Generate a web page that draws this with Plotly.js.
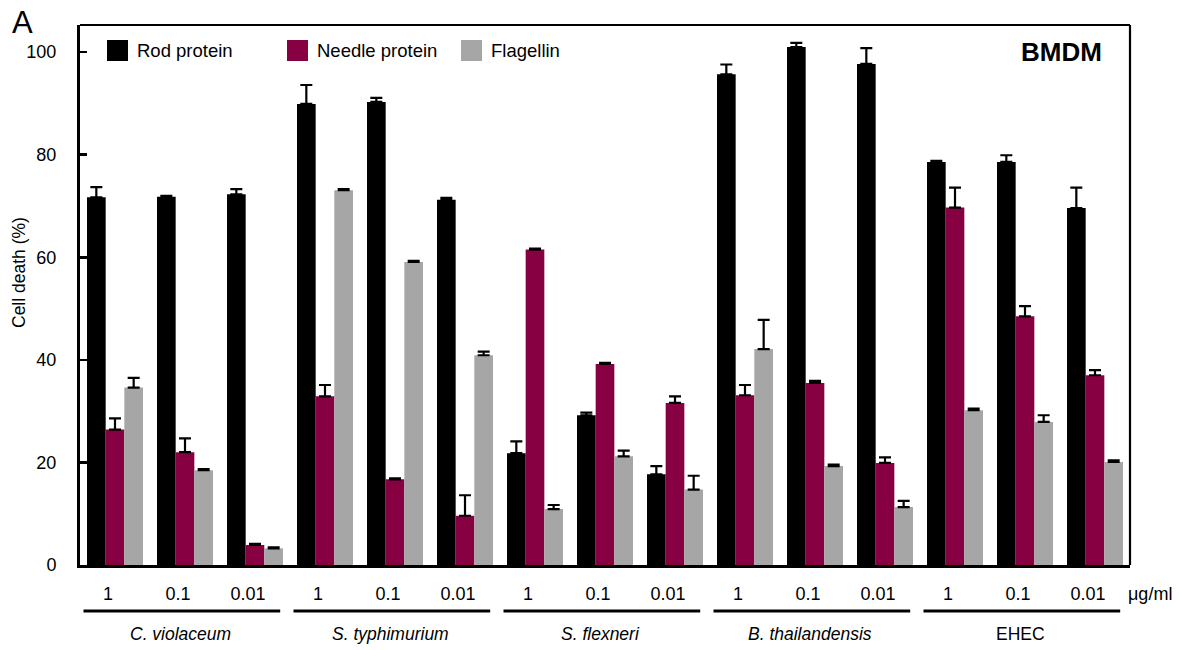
<!DOCTYPE html>
<html>
<head>
<meta charset="utf-8">
<script src="https://cdn.plot.ly/plotly-3.0.1.min.js"></script>
<style>html,body{margin:0;padding:0;background:#fff;}#chart{width:1181px;height:650px;}</style>
</head>
<body>
<div id="chart"></div>
<script>
// ---- data ----
const species = ["C. violaceum", "S. typhimurium", "S. flexneri", "B. thailandensis", "EHEC"];
const speciesItalic = [true, true, true, true, false];
const doses = ["1", "0.1", "0.01"];
const seriesNames = ["Rod protein", "Needle protein", "Flagellin"];
const seriesColors = ["#000000", "#870042", "#a6a6a6"];

const rodValues    = [71.7, 71.8, 72.3,  89.9, 90.3, 71.2,  21.8, 29.2, 17.7,  95.7, 101.0, 97.7,  78.6, 78.6, 69.6];
const rodErrors    = [2.0, 0.2, 1.0,     3.7, 0.8, 0.4,     2.3, 0.5, 1.6,     1.9, 0.8, 3.1,      0.2, 1.3, 4.0];
const needleValues = [26.4, 22.0, 3.9,   32.9, 16.7, 9.6,   61.5, 39.2, 31.6,  33.1, 35.5, 19.9,   69.7, 48.5, 37.0];
const needleErrors = [2.2, 2.7, 0.2,     2.2, 0.2, 4.0,     0.2, 0.2, 1.3,     2.0, 0.4, 1.1,      3.9, 2.0, 1.0];
const flagValues   = [34.6, 18.5, 3.25,  73.1, 59.1, 40.9,  10.9, 21.2, 14.7,  42.1, 19.3, 11.3,   30.2, 27.9, 20.1];
const flagErrors   = [1.9, 0.2, 0.2,     0.2, 0.2, 0.7,     0.8, 1.1, 2.7,     5.7, 0.3, 1.2,      0.3, 1.3, 0.3];
const yTicks = [0, 20, 40, 60, 80, 100];
const unitLabel = "\u03bcg/ml";
const panelLetter = "A";
const panelTag = "BMDM";
const yTitle = "Cell death (%)";

// ---- build ----
const xPos = [], xText = [];
species.forEach((s, g) => doses.forEach((d, k) => { xPos.push(g * doses.length + k); xText.push(d); }));

const vals = [rodValues, needleValues, flagValues];
const errs = [rodErrors, needleErrors, flagErrors];
const traces = seriesNames.map((n, i) => ({
  type: "bar", name: n, x: xPos, y: vals[i],
  marker: {color: seriesColors[i], line: {width: 0}},
  error_y: {type: "data", array: errs[i], arrayminus: errs[i].map(() => 0), symmetric: false,
            color: "#000", thickness: 2.2, width: 6},
  showlegend: false, hoverinfo: "x+y"
}));

const L = 80, R = 1130, T = 25, B = 565;
const px2x = p => (p - L) / (R - L);
const px2y = p => (B - p) / (B - T);
const font = "Liberation Sans, Arial, Helvetica, sans-serif";

const shapes = [
  {type: "line", xref: "paper", yref: "paper", x0: 0, x1: 1, y0: 1, y1: 1, line: {color: "#000", width: 2.2}},
  {type: "line", xref: "paper", yref: "paper", x0: 1, x1: 1, y0: 0, y1: 1, line: {color: "#000", width: 2.2}}
];
const annotations = [];
species.forEach((s, g) => {
  const start = g * doses.length, end = start + doses.length - 1;
  shapes.push({type: "line", xref: "x", yref: "paper", x0: start - 0.45, x1: end + 0.36,
               y0: px2y(611), y1: px2y(611), line: {color: "#000", width: 3}});
  annotations.push({xref: "x", yref: "paper", x: start + 0.93, y: px2y(634), text: speciesItalic[g] ? "<i>" + s + "</i>" : s,
                    showarrow: false, xanchor: "center", yanchor: "middle", font: {size: 17.5, color: "#000", family: font}});
});
// legend (manual)
const legX = [107, 287, 461];
seriesNames.forEach((n, i) => {
  shapes.push({type: "rect", xref: "paper", yref: "paper", x0: px2x(legX[i]), x1: px2x(legX[i] + 21),
               y0: px2y(61), y1: px2y(40), fillcolor: seriesColors[i], line: {width: 0}});
  annotations.push({xref: "paper", yref: "paper", x: px2x(legX[i] + 28), y: px2y(50.5), text: n, showarrow: false,
                    xanchor: "left", yanchor: "middle", font: {size: 18.5, color: "#000", family: font}});
});
annotations.push({xref: "paper", yref: "paper", x: px2x(1104), y: px2y(52), text: "<b>" + panelTag + "</b>", showarrow: false,
                  xanchor: "right", yanchor: "middle", font: {size: 26, color: "#000", family: font}});
annotations.push({xref: "paper", yref: "paper", x: px2x(1126), y: px2y(594), text: unitLabel, showarrow: false,
                  xanchor: "left", yanchor: "middle", font: {size: 18, color: "#000", family: font}});
annotations.push({xref: "paper", yref: "paper", x: px2x(10), y: px2y(23), text: panelLetter, showarrow: false,
                  xanchor: "left", yanchor: "middle", font: {size: 31, color: "#000", family: font}});
annotations.push({xref: "paper", yref: "paper", x: px2x(19), y: px2y(273), text: yTitle, showarrow: false, textangle: -90,
                  xanchor: "center", yanchor: "middle", font: {size: 17.5, color: "#000", family: font}});

const layout = {
  width: 1181, height: 650,
  margin: {l: L, r: 1181 - R, t: T, b: 650 - B, pad: 0},
  paper_bgcolor: "#fff", plot_bgcolor: "#fff",
  barmode: "group", bargap: 0.2, bargroupgap: 0,
  showlegend: false,
  font: {family: font, color: "#000", size: 18},
  xaxis: {range: [-0.5, xPos.length - 0.5], tickvals: xPos, ticktext: xText, ticks: "", showgrid: false,
          zeroline: false, showline: true, linecolor: "#000", linewidth: 3, ticklabelshift: -7, ticklabelstandoff: 10,
          tickfont: {size: 18, family: font, color: "#000"}, fixedrange: true},
  yaxis: {range: [0, 105.3], tickvals: yTicks, ticks: "inside", ticklen: 7, tickwidth: 2.5, tickcolor: "#000",
          showgrid: false, zeroline: false, showline: true, linecolor: "#000", linewidth: 3, ticklabelstandoff: 17,
          tickfont: {size: 18, family: font, color: "#000"}, fixedrange: true},
  shapes: shapes, annotations: annotations
};
Plotly.newPlot("chart", traces, layout, {displayModeBar: false, staticPlot: true});
</script>
</body>
</html>
